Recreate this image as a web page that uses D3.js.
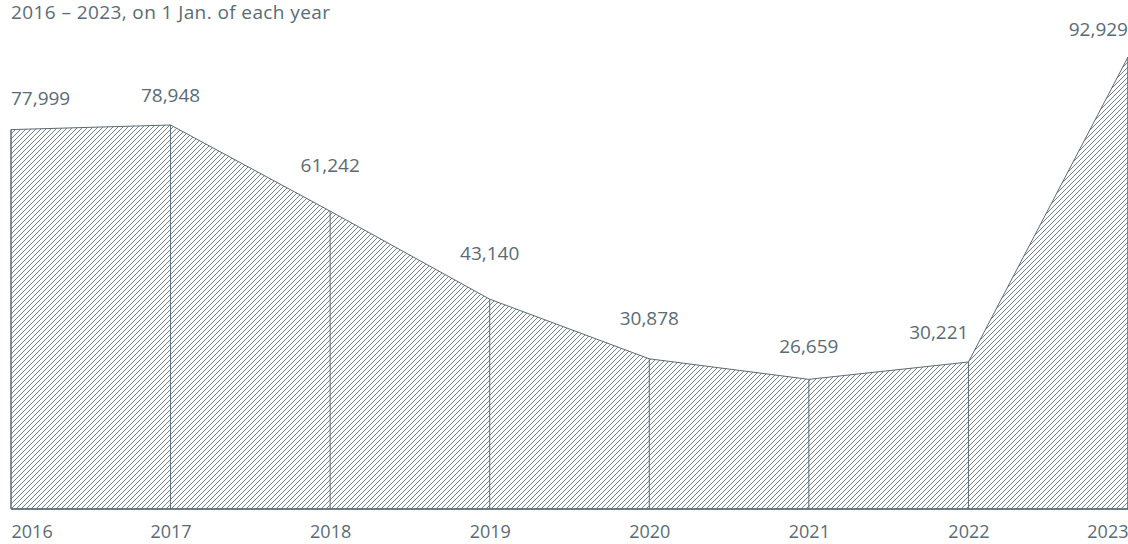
<!DOCTYPE html>
<html>
<head>
<meta charset="utf-8">
<script src="https://cdn.jsdelivr.net/npm/d3@7"></script>
<style>
  html, body { margin: 0; padding: 0; background: #fff; }
  #chart { width: 1128px; height: 544px; }
  text { font-family: "Open Sans", Lato, sans-serif; fill: #5b6b74; }
</style>
</head>
<body>
<div id="chart"></div>
<script>
// population on 1 Jan, 2016-2023
const years = [2016, 2017, 2018, 2019, 2020, 2021, 2022, 2023];
const values = [77999, 78948, 61242, 43140, 30878, 26659, 30221, 92929];
const subtitle = '2016 – 2023, on 1 Jan. of each year';

const W = 1128, H = 544;
const m = { top: 57, right: 0, bottom: 35, left: 11 };
const ink = '#5b6b74';

const svg = d3.select('#chart').append('svg')
    .attr('width', W).attr('height', H);

// hatch pattern
const pat = svg.append('defs').append('pattern')
    .attr('id', 'hatch')
    .attr('patternUnits', 'userSpaceOnUse')
    .attr('width', 5).attr('height', 5);
pat.append('path')
    .attr('d', 'M-1,1 l2,-2 M0,5 l5,-5 M4,6 l2,-2')
    .attr('stroke', ink)
    .attr('stroke-width', 0.85);

const x = d3.scalePoint()
    .domain(years)
    .range([m.left, W - m.right]);

const y = d3.scaleLinear()
    .domain([0, d3.max(values)])
    .range([H - m.bottom, m.top]);

const data = years.map((yr, i) => ({ yr, v: values[i] }));

// area
const area = d3.area()
    .x(d => x(d.yr))
    .y0(y(0))
    .y1(d => y(d.v));

svg.append('path')
    .datum(data)
    .attr('d', area)
    .attr('fill', 'url(#hatch)')
    .attr('stroke', ink)
    .attr('stroke-width', 1);

// vertical dividers
svg.append('g').selectAll('line')
    .data(data)
    .join('line')
    .attr('x1', d => x(d.yr)).attr('x2', d => x(d.yr))
    .attr('y1', d => y(d.v)).attr('y2', y(0))
    .attr('stroke', ink)
    .attr('stroke-width', 1);

// baseline
svg.append('line')
    .attr('x1', x(years[0])).attr('x2', x(years[years.length - 1]))
    .attr('y1', y(0)).attr('y2', y(0))
    .attr('stroke', ink)
    .attr('stroke-width', 1.6);

// axis labels
const edgeAnchor = i => i === 0 ? 'start' : (i === years.length - 1 ? 'end' : 'middle');

const xAxis = svg.append('g')
    .attr('transform', `translate(0,${y(0)})`)
    .call(d3.axisBottom(x).tickSize(0).tickPadding(16).tickFormat(d => d));
xAxis.select('.domain').remove();
xAxis.selectAll('text')
    .attr('font-size', '18px')
    .attr('fill', ink)
    .attr('font-family', '"Open Sans", sans-serif')
    .attr('text-anchor', (d, i) => edgeAnchor(i));

// value labels, lifted above the line under the text
const fmt = d3.format(',');
const lineAt = px => {
    const i = Math.max(0, Math.min(years.length - 2, Math.floor((px - m.left) / x.step())));
    const x0 = x(years[i]), x1 = x(years[i + 1]);
    const t = Math.max(0, Math.min(1, (px - x0) / (x1 - x0)));
    return y(values[i]) + (y(values[i + 1]) - y(values[i])) * t;
};
// a point right before a steep climb gets its label pushed to the left
const labelAnchor = i => {
    if (i > 0 && i < values.length - 1 && values[i + 1] > 2 * values[i]) return 'end';
    return edgeAnchor(i);
};

data.forEach((d, i) => {
    const t = svg.append('text')
        .attr('x', x(d.yr))
        .attr('text-anchor', labelAnchor(i))
        .attr('font-size', '19px')
        .text(fmt(d.v));
    const bb = t.node().getBBox();
    let top = Infinity;
    for (let px = bb.x; px <= bb.x + bb.width; px += 2) top = Math.min(top, lineAt(px));
    t.attr('y', top - 23);
});

svg.append('text')
    .attr('x', m.left)
    .attr('y', 19)
    .attr('font-size', '19px')
    .attr('letter-spacing', '0.4px')
    .text(subtitle);
</script>
</body>
</html>
